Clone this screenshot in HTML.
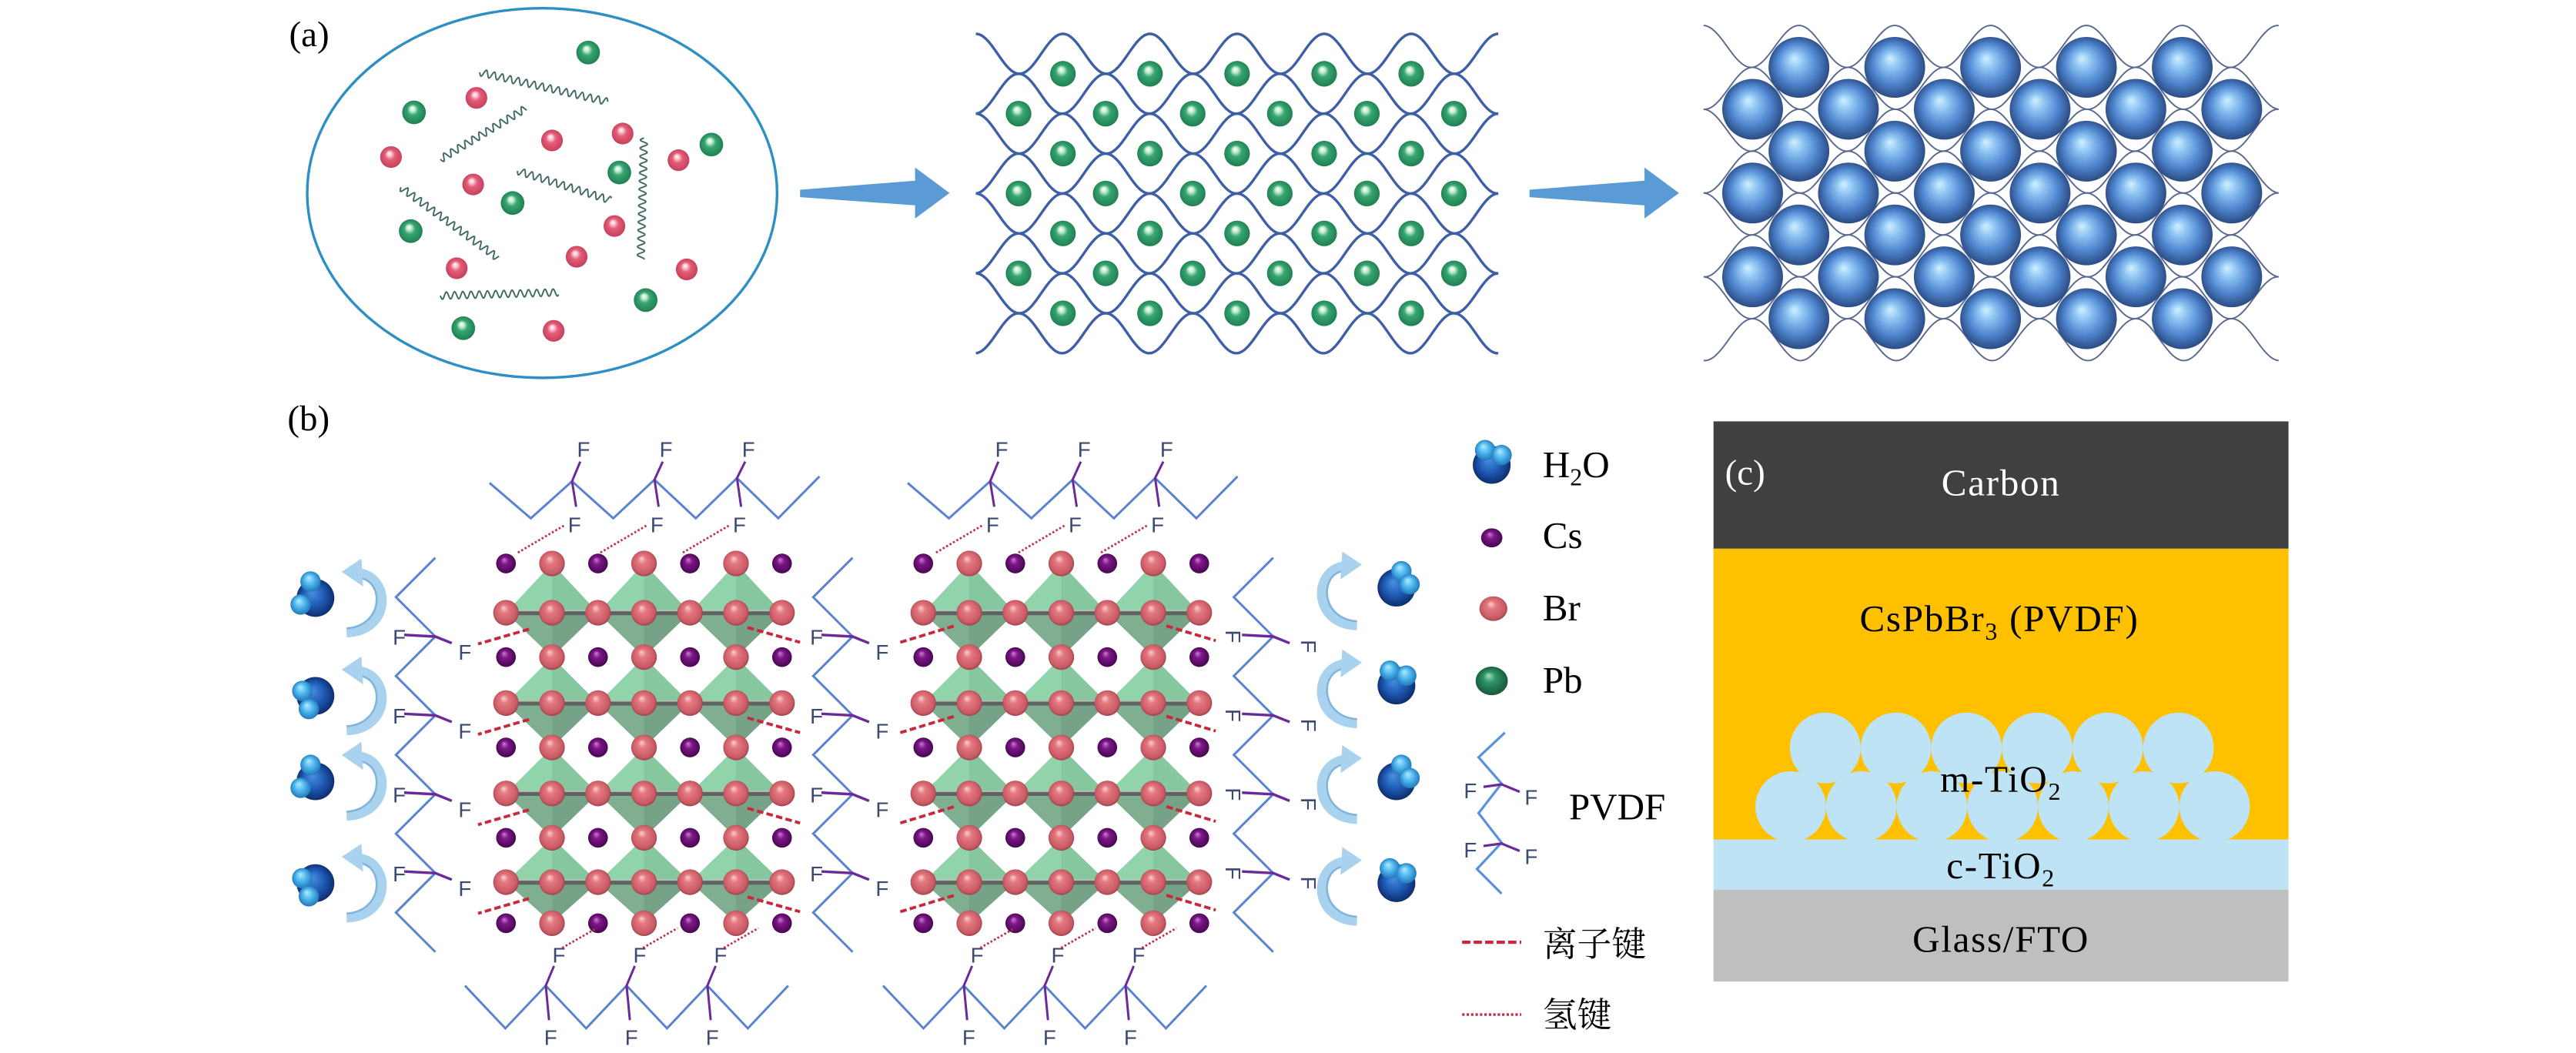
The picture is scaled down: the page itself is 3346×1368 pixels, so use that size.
<!DOCTYPE html>
<html><head><meta charset="utf-8"><style>
html,body{margin:0;padding:0;background:#fff;}
svg{display:block;}
</style></head><body>
<svg id="s" xmlns="http://www.w3.org/2000/svg" width="3346" height="1368" viewBox="0 0 1568 641" preserveAspectRatio="none">
<defs>
<radialGradient id="gGreen" cx="50%" cy="50%" r="55%" fx="42%" fy="32%"><stop offset="0" stop-color="#ffffff"/><stop offset="0.2" stop-color="#bfead0"/><stop offset="0.42" stop-color="#37a672"/><stop offset="1" stop-color="#1d7a4c"/></radialGradient>
<radialGradient id="gRed" cx="50%" cy="50%" r="55%" fx="42%" fy="32%"><stop offset="0" stop-color="#ffffff"/><stop offset="0.2" stop-color="#f8c0cc"/><stop offset="0.42" stop-color="#e45e78"/><stop offset="1" stop-color="#c23c58"/></radialGradient>
<radialGradient id="gBlue" cx="50%" cy="50%" r="55%" fx="42%" fy="35%"><stop offset="0" stop-color="#d2f0ff"/><stop offset="0.25" stop-color="#8ec4f2"/><stop offset="0.6" stop-color="#4f86d0"/><stop offset="1" stop-color="#233f72"/></radialGradient>
<radialGradient id="gBr" cx="50%" cy="50%" r="55%" fx="40%" fy="30%"><stop offset="0" stop-color="#fbd0d0"/><stop offset="0.3" stop-color="#e47880"/><stop offset="0.8" stop-color="#c85a64"/><stop offset="1" stop-color="#8a3440"/></radialGradient>
<radialGradient id="gCs" cx="50%" cy="50%" r="55%" fx="40%" fy="30%"><stop offset="0" stop-color="#c880d0"/><stop offset="0.35" stop-color="#7e1688"/><stop offset="1" stop-color="#40064a"/></radialGradient>
<radialGradient id="gPb" cx="50%" cy="50%" r="55%" fx="40%" fy="30%"><stop offset="0" stop-color="#a0e0c0"/><stop offset="0.35" stop-color="#2e9466"/><stop offset="1" stop-color="#145236"/></radialGradient>
<radialGradient id="gO" cx="50%" cy="50%" r="55%" fx="40%" fy="35%"><stop offset="0" stop-color="#4a90e0"/><stop offset="0.5" stop-color="#1f5cb8"/><stop offset="1" stop-color="#0a2660"/></radialGradient>
<radialGradient id="gH" cx="50%" cy="50%" r="55%" fx="40%" fy="30%"><stop offset="0" stop-color="#b0ecff"/><stop offset="0.5" stop-color="#4ab4ec"/><stop offset="1" stop-color="#1e6fb0"/></radialGradient>
</defs>
<g id="root"></g>
</svg>
<script>
var o=[];
function A(s){o.push(s);}
function f(n){return n.toFixed(2);}
A('<text x="176" y="28" font-family="Liberation Serif" font-size="22">(a)</text>');
A('<ellipse cx="330" cy="117.5" rx="143" ry="112.5" fill="none" stroke="#2e8fc4" stroke-width="1.6"/>');
function wavy(x1,y1,x2,y2){var dx=x2-x1,dy=y2-y1,L=Math.hypot(dx,dy),ux=dx/L,uy=dy/L,nx=-uy,ny=ux,p='';for(var t=0;t<=L;t+=0.5){var a=2.2*Math.sin(t/5*2*Math.PI);p+=(t?'L':'M')+f(x1+ux*t+nx*a)+' '+f(y1+uy*t+ny*a);}A('<path d="'+p+'" fill="none" stroke="#3f6a66" stroke-width="0.9"/>');}
wavy(292,44,370,62);wavy(268,97,320,66);wavy(315,104,372,122);wavy(244,114,303,157);wavy(392,84,390,158);wavy(268,180,340,178);
var gr=[[358,32],[252,68.4],[433,88],[377,105],[312,123.6],[250,140.7],[393,182.7],[282,199.8]];
var rd=[[290,59.6],[379,81.3],[336,85.5],[238,95.6],[413,97.5],[288,112.3],[374,137.6],[351,156.3],[278,163.3],[418,164],[337,201.4]];
gr.forEach(function(p){A('<circle cx="'+p[0]+'" cy="'+p[1]+'" r="7.2" fill="url(#gGreen)"/>');});
rd.forEach(function(p){A('<circle cx="'+p[0]+'" cy="'+p[1]+'" r="6.6" fill="url(#gRed)"/>');});
function arrow(x){A('<polygon points="'+x+',115.5 '+(x+70)+',110 '+(x+70)+',102 '+(x+91)+',117.5 '+(x+70)+',133 '+(x+70)+',125 '+x+',120" fill="#5b9bd5"/>');}
arrow(487);arrow(931);
function grid(x0,x1,top,d,P,pe,po,col,w){for(var k=0;k<8;k++){var xp=k%2?po:pe,p='';for(var x=x0;x<=x1+0.01;x+=0.5){var y=top+k*d+(d/2)*(1-Math.cos(2*Math.PI*(x-xp)/P));p+=(x==x0?'M':'L')+f(x)+' '+f(y);}A('<path d="'+p+'" fill="none" stroke="'+col+'" stroke-width="'+w+'"/>');}}
grid(594,912,20.6,24.3,53,647,620,'#3e5fa6',1.6);
for(var k=0;k<7;k++){var y=20.6+(k+1)*24.3;var n=k%2?6:5,xs=k%2?620:647;for(var i=0;i<n;i++)A('<circle cx="'+(xs+53*i)+'" cy="'+f(y)+'" r="7.8" fill="url(#gGreen)"/>');}
grid(1037,1387,15.5,25.5,58.33,1095,1066.8,'#5a6890',0.9);
for(var k=0;k<7;k++){var y=15.5+(k+1)*25.5;var n=k%2?6:5,xs=k%2?1066.8:1095;for(var i=0;i<n;i++)A('<circle cx="'+f(xs+58.33*i)+'" cy="'+f(y)+'" r="18.5" fill="url(#gBlue)"/>');}
A('<text x="175" y="262" font-family="Liberation Serif" font-size="22">(b)</text>');
var bondY=[373,428,483,537],csY=[343,400,455,510,562];
function crystal(ox){
 var cols=[308,336,364,392,420,448,476].map(function(c){return c+ox;});
 var pb=[cols[1],cols[3],cols[5]];
 bondY.forEach(function(b,bi){var t=csY[bi],bt=csY[bi+1];pb.forEach(function(x){
  A('<polygon points="'+(x-28)+','+b+' '+x+','+t+' '+(x+28)+','+b+'" fill="#91d3aa"/>');
  A('<polygon points="'+x+','+t+' '+(x+28)+','+b+' '+x+','+b+'" fill="#86c79f"/>');
  A('<polygon points="'+(x-28)+','+b+' '+x+','+bt+' '+(x+28)+','+b+'" fill="#7fae91"/>');
  A('<polygon points="'+x+','+bt+' '+(x+28)+','+b+' '+x+','+b+'" fill="#76a287"/>');});
  A('<line x1="'+cols[0]+'" y1="'+b+'" x2="'+cols[6]+'" y2="'+b+'" stroke="#5e6460" stroke-width="3"/>');
  A('<line x1="'+cols[0]+'" y1="'+(b-1.3)+'" x2="'+cols[6]+'" y2="'+(b-1.3)+'" stroke="#b8c0ba" stroke-width="0.8"/>');});
 return cols;}
function atoms(cols){
 csY.forEach(function(y){cols.forEach(function(x,i){if(i%2)A('<circle cx="'+x+'" cy="'+y+'" r="7.8" fill="url(#gBr)"/>');else A('<circle cx="'+x+'" cy="'+y+'" r="6" fill="url(#gCs)"/>');});});
 bondY.forEach(function(y){cols.forEach(function(x){A('<circle cx="'+x+'" cy="'+y+'" r="7.8" fill="url(#gBr)"/>');});});}
function dash(x1,y1,x2,y2){A('<line x1="'+x1+'" y1="'+y1+'" x2="'+x2+'" y2="'+y2+'" stroke="#c8283c" stroke-width="1.8" stroke-dasharray="4 2"/>');}
function dot(x1,y1,x2,y2){A('<line x1="'+x1+'" y1="'+y1+'" x2="'+x2+'" y2="'+y2+'" stroke="#c03048" stroke-width="1.3" stroke-dasharray="1.2 1.2"/>');}
function F(x,y,rot){A('<text x="'+x+'" y="'+y+'" font-family="Liberation Sans" font-size="13" fill="#3b4a72" text-anchor="middle"'+(rot?' transform="rotate(90 '+x+' '+(y-5)+')"':'')+'>F</text>');}
function topChain(ox){var p='';for(var i=0;i<9;i++){var x=298+ox+25.1*i,y=i%2?315.5:(294-i*0.5);p+=(i?'L':'M')+f(x)+' '+f(y);}A('<path d="'+p+'" fill="none" stroke="#5b82d0" stroke-width="1.4"/>');
 [2,4,6].forEach(function(i){var ax=298+ox+25.1*i,ay=294-i*0.5;A('<polyline points="'+(ax+5)+',281 '+ax+','+ay+' '+(ax+2.5)+',308.5" fill="none" stroke="#6a2a9a" stroke-width="1.4"/>');F(ax+7,278);F(ax+1.5,324);dot(ax-5,320,ax-34,337);});}
function botChain(ox){var p='';for(var i=0;i<9;i++){var x=283+ox+24.6*i,y=i%2?626:600;p+=(i?'L':'M')+f(x)+' '+f(y);}A('<path d="'+p+'" fill="none" stroke="#5b82d0" stroke-width="1.4"/>');
 [2,4,6].forEach(function(i){var ax=283+ox+24.6*i;A('<polyline points="'+(ax+5)+',588 '+ax+',600 '+(ax+2)+',621" fill="none" stroke="#6a2a9a" stroke-width="1.4"/>');F(ax+8,586);F(ax+3,636);dot(ax+10,577,ax+31,565);});}
function sideChain(ox,rot){var p='';for(var k=0;k<=10;k++){var x=(k%2?241:265)+ox,y=339.5+24*k;p+=(k?'L':'M')+x+' '+f(y);}A('<path d="'+p+'" fill="none" stroke="#5b82d0" stroke-width="1.4"/>');
 [2,4,6,8].forEach(function(k){var vx=265+ox,vy=339.5+24*k;A('<polyline points="'+(vx-19)+','+(vy-1)+' '+vx+','+vy+' '+(vx+10)+','+(vy+4)+'" fill="none" stroke="#6a2a9a" stroke-width="1.6"/>');
  if(rot){F(vx-24,vy+5,1);F(vx+22,vy+11,1);}else{F(vx-22,vy+5);F(vx+18,vy+14);}});}
var L=crystal(0),R=crystal(254);
bondY.forEach(function(b){dash(322,b+10,291,b+19);dash(455,b+9,487,b+18);dash(548,b+18,581,b+8);dash(710,b+8,740,b+17);});
atoms(L);atoms(R);
topChain(0);topChain(254.5);botChain(0);botChain(254.5);
sideChain(0,0);sideChain(254,0);sideChain(510,1);
function water(cx,cy,v){A('<circle cx="'+cx+'" cy="'+cy+'" r="11.5" fill="url(#gO)"/>');
 var h=[[[-3,-10],[-9,4]],[[-8,-3],[-4,8]],[[-4,-9],[6,-6]],[[3,-10],[8,-2]]][v];
 h.forEach(function(q){A('<circle cx="'+(cx+q[0])+'" cy="'+(cy+q[1])+'" r="6.2" fill="url(#gH)"/>');});}
function carrow(x,cy,s){
 function X(d){return f(x+s*d);}
 A('<path d="M'+X(0)+' '+(cy+20)+' C'+X(27)+' '+(cy+19)+' '+X(27)+' '+(cy-13)+' '+X(8)+' '+(cy-16)+'" fill="none" stroke="#a9d2ee" stroke-width="6"/>');
 A('<path d="M'+X(0)+' '+(cy+17.5)+' C'+X(22)+' '+(cy+16)+' '+X(23)+' '+(cy-10)+' '+X(9)+' '+(cy-13)+'" fill="none" stroke="#7fb5dc" stroke-width="1.2"/>');
 A('<polygon points="'+X(-3)+','+(cy-17)+' '+X(9)+','+(cy-25)+' '+X(10)+','+(cy-8)+'" fill="#a9d2ee"/>');}
var wl=[364,423.6,475.6,537.6],wr=[357.7,417.3,475.6,537.6];
wl.forEach(function(y,i){water(192,y,i%2?1:0);carrow(211,y+1,1);});
wr.forEach(function(y,i){water(850,y,i%2?2:3);carrow(826,y+3,-1);});
var T='font-family="Liberation Serif" font-size="23"';
water(908,283,2);
A('<text x="939" y="290.5" '+T+'>H<tspan font-size="15" dy="5">2</tspan><tspan dy="-5">O</tspan></text>');
A('<ellipse cx="908" cy="327.4" rx="6.5" ry="5.8" fill="url(#gCs)"/>');A('<text x="939" y="333.7" '+T+'>Cs</text>');
A('<ellipse cx="909" cy="370.5" rx="8.5" ry="7.5" fill="url(#gBr)"/>');A('<text x="939" y="377.6" '+T+'>Br</text>');
A('<ellipse cx="908" cy="414.5" rx="9.8" ry="8.7" fill="url(#gPb)"/>');A('<text x="939" y="421.6" '+T+'>Pb</text>');
A('<polyline points="916,446 900,461 914,477 900,495 914,513 899,529 914,544" fill="none" stroke="#5b8fe0" stroke-width="1.5"/>');
A('<polyline points="903,479 914,477.5 925,482" fill="none" stroke="#6a2a9a" stroke-width="1.5"/>');
A('<polyline points="903,515 914,513.5 925,518" fill="none" stroke="#6a2a9a" stroke-width="1.5"/>');
F(895,486);F(932,490);F(895,522);F(932,526);
A('<text x="955" y="498.8" '+T+'>PVDF</text>');
A('<line x1="890" y1="573.6" x2="926" y2="573.6" stroke="#c8283c" stroke-width="2" stroke-dasharray="5 2"/>');
A('<text x="939" y="582" font-family="Liberation Serif, Noto Serif CJK SC, serif" font-size="21">离子键</text>');
A('<line x1="890" y1="617.6" x2="926" y2="617.6" stroke="#c03048" stroke-width="1.6" stroke-dasharray="1.5 1.2"/>');
A('<text x="939" y="625" font-family="Liberation Serif, Noto Serif CJK SC, serif" font-size="21">氢键</text>');
A('<rect x="1043" y="256.5" width="350" height="77.5" fill="#404040"/>');
A('<rect x="1043" y="334" width="350" height="177" fill="#ffc000"/>');
[1111,1154,1197,1240,1283,1326].forEach(function(x){A('<circle cx="'+x+'" cy="455.3" r="21.5" fill="#bde3f4"/>');});
[1090,1133,1176,1219,1262,1305,1348].forEach(function(x){A('<circle cx="'+x+'" cy="491" r="21.5" fill="#bde3f4"/>');});
A('<rect x="1043" y="511" width="350" height="30.5" fill="#bde3f4"/>');
A('<rect x="1043" y="541.5" width="350" height="56" fill="#bfbfbf"/>');
var C='font-family="Liberation Serif" font-size="23" text-anchor="middle" letter-spacing="0.8"';
A('<text x="1050" y="295" font-family="Liberation Serif" font-size="22" fill="#fff">(c)</text>');
A('<text x="1218" y="301.5" '+C+' fill="#fff">Carbon</text>');
A('<text x="1217" y="384.3" '+C+'>CsPbBr<tspan font-size="15" dy="5">3</tspan><tspan dy="-5"> (PVDF)</tspan></text>');
A('<text x="1218" y="481.9" '+C+'>m-TiO<tspan font-size="15" dy="5">2</tspan></text>');
A('<text x="1218" y="534.6" '+C+'>c-TiO<tspan font-size="15" dy="5">2</tspan></text>');
A('<text x="1218" y="579.4" '+C+'>Glass/FTO</text>');
document.getElementById('root').innerHTML=o.join('');
</script>
</body></html>
